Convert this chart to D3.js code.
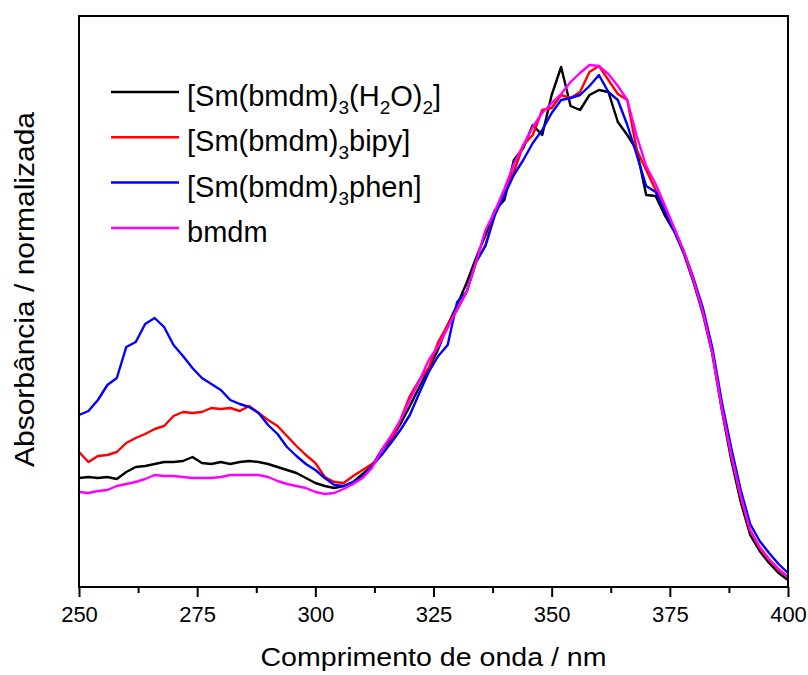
<!DOCTYPE html>
<html>
<head>
<meta charset="utf-8">
<script src="https://cdn.jsdelivr.net/npm/d3@7"></script>
<style>
  body { margin: 0; background: #fff; }
  svg { font-family: "Liberation Sans", Arial, sans-serif; }
</style>
</head>
<body>
<div id="container"></div>
<script>
/* DATA (absorbance in arbitrary units) */
const wavelength = [250,252,254,256,258,260,262,264,266,268,270,272,274,276,278,280,282,284,286,288,
  290,292,294,296,298,300,302,304,306,308,310,312,314,316,318,320,322,324,326,328,
  330,332,334,336,338,340,342,344,346,348,350,352,354,356,358,360,362,364,366,368,
  370,372,374,376,378,380,382,384,386,388,390,392,394,396,398,400];

const smH2O = [109,110,109,110,108,115,120,121,123,125,125,126,130,124,123,125,123,125,126,125,
  123,120,117,114,109,104,101,99,101,105,113,121,137,147,163,181,200,218,238,262,
  282,304,329,352,377,387,427,439,462,452,492,520,481,477,492,497,495,465,452,437,
  392,391,371,355,333,305,273,233,177,127,85,52,36,24,14,7];

const smBipy = [135,125,131,132,135,144,149,153,158,161,171,175,174,175,179,178,179,176,181,174,
  167,161,151,141,132,124,110,105,104,111,117,123,132,145,167,191,207,219,245,262,
  277,295,325,342,375,397,415,442,452,477,479,492,489,495,515,521,507,493,487,437,
  417,397,379,358,335,307,275,234,179,132,90,56,39,27,17,10];

const smPhen = [172,176,187,202,209,240,245,263,269,260,242,231,219,209,203,197,187,183,180,174,
  162,153,140,131,123,117,109,102,101,105,110,121,132,144,157,172,194,215,231,242,
  285,295,325,341,372,392,412,427,444,457,474,487,489,492,501,512,495,487,462,432,
  401,395,375,355,335,309,279,239,185,139,97,63,46,34,23,14];

const bmdm = [95,94,96,97,101,103,105,108,112,111,111,110,109,109,109,110,112,112,112,112,
  110,106,103,101,99,95,93,94,98,103,109,119,137,151,167,187,206,227,241,259,
  278,295,325,357,376,398,423,442,460,474,484,493,505,514,522,521,513,501,487,451,
  421,403,381,358,335,307,275,234,179,132,91,57,40,28,18,10];

const majorTicks = [250, 275, 300, 325, 350, 375, 400];
const minorTicks = [262.5, 287.5, 312.5, 337.5, 362.5, 387.5];

const series = [
  { name: "h2o", values: smH2O, color: "#000000" },
  { name: "bipy", values: smBipy, color: "#ff0000" },
  { name: "phen", values: smPhen, color: "#0000ff" },
  { name: "bmdm", values: bmdm, color: "#ff00ff" }
];

/* LAYOUT */
const width = 808, height = 675;
const plot = { left: 79, right: 788, top: 16, bottom: 587 };

const svg = d3.select("#container")
  .append("svg")
  .attr("width", width)
  .attr("height", height);

const x = d3.scaleLinear()
  .domain([250, 400])
  .range([plot.left, plot.right]);

const y = d3.scaleLinear()
  .domain([0, 571])
  .range([plot.bottom, plot.top]);

// CURVES
const line = d3.line()
  .x(d => x(d[0]))
  .y(d => y(d[1]));

svg.selectAll("path.curve")
  .data(series)
  .join("path")
  .attr("class", "curve")
  .attr("fill", "none")
  .attr("stroke", d => d.color)
  .attr("stroke-width", 2.4)
  .attr("stroke-linejoin", "round")
  .attr("d", d => line(wavelength.map((w, i) => [w, d.values[i]])));

// AXES
const xAxis = svg.append("g")
  .attr("transform", `translate(0, ${plot.bottom})`)
  .call(d3.axisBottom(x).tickValues(majorTicks).tickSize(10).tickSizeOuter(0).tickFormat(d3.format("d")));

xAxis.select(".domain").remove();
xAxis.selectAll(".tick line").attr("stroke-width", 2);
xAxis.selectAll(".tick text")
  .attr("y", 19)
  .style("font-size", "22px")
  .style("font-family", "Liberation Sans, Arial, sans-serif")
  .attr("fill", "#000");

const xMinor = svg.append("g")
  .attr("transform", `translate(0, ${plot.bottom})`)
  .call(d3.axisBottom(x).tickValues(minorTicks).tickSize(6).tickSizeOuter(0).tickFormat(""));
xMinor.select(".domain").remove();
xMinor.selectAll(".tick line").attr("stroke-width", 2);

// FRAME
svg.append("rect")
  .attr("x", plot.left)
  .attr("y", plot.top)
  .attr("width", plot.right - plot.left)
  .attr("height", plot.bottom - plot.top)
  .attr("fill", "none")
  .attr("stroke", "#000")
  .attr("stroke-width", 2);

// AXIS TITLES
svg.append("text")
  .attr("x", (plot.left + plot.right) / 2)
  .attr("y", 666)
  .attr("text-anchor", "middle")
  .attr("textLength", 346)
  .attr("lengthAdjust", "spacingAndGlyphs")
  .style("font-size", "26px")
  .text("Comprimento de onda / nm");

svg.append("text")
  .attr("transform", `translate(34, ${(plot.top + plot.bottom) / 2 - 12}) rotate(-90)`)
  .attr("text-anchor", "middle")
  .attr("textLength", 355)
  .attr("lengthAdjust", "spacingAndGlyphs")
  .style("font-size", "27px")
  .text("Absorbância / normalizada");

// LEGEND
const legendData = [
  { color: "#000000", parts: [["[Sm(bmdm)", 0], ["3", 1], ["(H", 0], ["2", 1], ["O)", 0], ["2", 1], ["]", 0]] },
  { color: "#ff0000", parts: [["[Sm(bmdm)", 0], ["3", 1], ["bipy]", 0]] },
  { color: "#0000ff", parts: [["[Sm(bmdm)", 0], ["3", 1], ["phen]", 0]] },
  { color: "#ff00ff", parts: [["bmdm", 0]] }
];

const legend = svg.append("g")
  .attr("transform", "translate(111, 92)");

const legendItems = legend.selectAll("g.legend-item")
  .data(legendData)
  .join("g")
  .attr("class", "legend-item")
  .attr("transform", (d, i) => `translate(0, ${i * 45.3})`);

legendItems.append("line")
  .attr("x1", 0)
  .attr("x2", 68)
  .attr("stroke", d => d.color)
  .attr("stroke-width", 2.5);

const legendText = legendItems.append("text")
  .attr("x", 76)
  .attr("y", 14)
  .style("font-size", "29px")
  .attr("fill", "#000");

legendText.selectAll("tspan")
  .data(d => d.parts)
  .join("tspan")
  .style("font-size", p => p[1] ? "19px" : "29px")
  .attr("dy", (p, i, nodes) => {
    const prev = i > 0 ? nodes[i - 1].__data__[1] : 0;
    if (p[1] && !prev) return 8;
    if (!p[1] && prev) return -8;
    return 0;
  })
  .text(p => p[0]);
</script>
</body>
</html>
